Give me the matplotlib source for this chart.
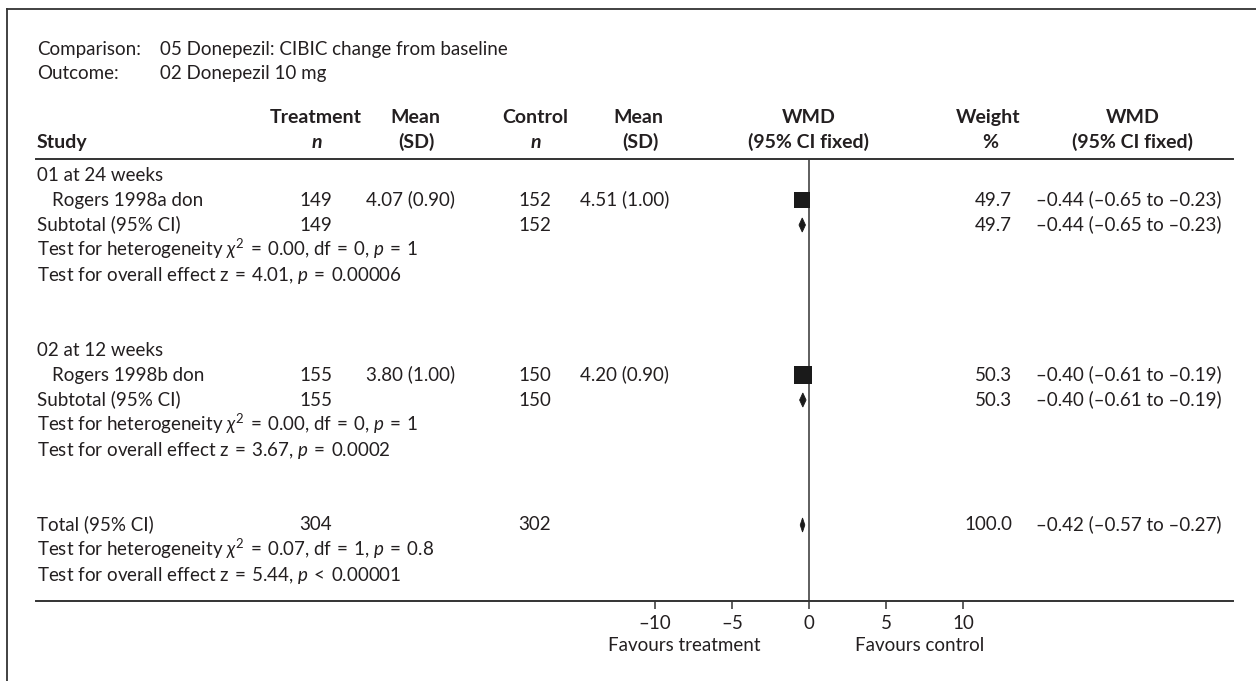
import matplotlib
matplotlib.use("Agg")
import matplotlib.pyplot as plt
import matplotlib.transforms as mtransforms
from matplotlib.lines import Line2D

plt.rcParams['font.family'] = ['Lato', 'DejaVu Sans']
plt.rcParams['mathtext.fontset'] = 'custom'
plt.rcParams['mathtext.rm'] = 'Lato'
plt.rcParams['mathtext.it'] = 'Lato:italic'
plt.rcParams['mathtext.bf'] = 'Lato:bold'
plt.rcParams['mathtext.fallback'] = 'stixsans'

# ---- data ----
comparison = "05 Donepezil: CIBIC change from baseline"
outcome = "02 Donepezil 10 mg"

groups = ["01 at 24 weeks", "02 at 12 weeks"]
studies = ["Rogers 1998a don", "Rogers 1998b don"]
trt_n = [149, 155]
trt_mean = [4.07, 3.80]
trt_sd = [0.90, 1.00]
ctl_n = [152, 150]
ctl_mean = [4.51, 4.20]
ctl_sd = [1.00, 0.90]
wmd = [-0.44, -0.40]
wmd_lo = [-0.65, -0.61]
wmd_hi = [-0.23, -0.19]
weight = [49.7, 50.3]
het_chi2 = [0.00, 0.00]
het_df = [0, 0]
het_p = ["= 1", "= 1"]
eff_z = [4.01, 3.67]
eff_p = ["= 0.00006", "= 0.0002"]

total_trt_n = 304
total_ctl_n = 302
total_wmd = -0.42
total_lo = -0.57
total_hi = -0.27
total_weight = 100.0
total_chi2 = 0.07
total_df = 1
total_p = "= 0.8"
total_z = 5.44
total_zp = "< 0.00001"

xticks = [-10, -5, 0, 5, 10]

# ---- layout (pixels) ----
W, H = 1256, 681
zero_px = 809
px_per_unit = 15.4
line_l, line_r = 36, 1233
top_line, bot_line = 159, 601
row0, row_step = 175, 25
base_off = 5.5    # px from row centre down to text baseline

TXT = '#231f20'
LINE = '#333333'
fs = 13.5
hfs = 14
SP = "\u2004"   # slightly wider space around = and <


def fx(px):
    return px / W


def fy(py):
    return 1 - py / H


def dash(v, fmt="{:.2f}"):
    return fmt.format(v).replace("-", "\u2013")


def eq(s):
    return s.replace(" = ", SP + "=" + SP).replace(" < ", SP + "<" + SP)


fig = plt.figure(figsize=(W / 100, H / 100), dpi=100)

# outer frame (open on right/bottom in the source)
fig.add_artist(Line2D([fx(7), fx(7)], [fy(9), 0], color=LINE, lw=1.3))
fig.add_artist(Line2D([fx(7), 1], [fy(9), fy(9)], color=LINE, lw=1.3))

ax = fig.add_axes([fx(line_l), fy(bot_line), fx(line_r - line_l),
                   (bot_line - top_line) / H])
ax.set_xlim((line_l - zero_px) / px_per_unit, (line_r - zero_px) / px_per_unit)
ax.set_ylim((bot_line - row0) / row_step, (top_line - row0) / row_step)
for s in ['left', 'right']:
    ax.spines[s].set_visible(False)
for s in ['top', 'bottom']:
    ax.spines[s].set_color(LINE)
    ax.spines[s].set_linewidth(1.4)
ax.set_yticks([])
ax.set_xticks(xticks)
ax.set_xticklabels([dash(t, "{:d}") for t in xticks], fontsize=fs, color=TXT)
ax.tick_params(axis='x', length=6, width=1.1, color=LINE, pad=4)
ax.axvline(0, color=LINE, lw=1.1)
ax.patch.set_alpha(0)

tr = mtransforms.blended_transform_factory(fig.transFigure, ax.transData)


def put(px, row, s, ha='left', **kw):
    ax.text(fx(px), row + base_off / row_step, eq(s), transform=tr, ha=ha,
            va='baseline', fontsize=fs, color=TXT, clip_on=False, **kw)


# columns
c_study, c_indent = 37, 52
c_tn, c_tm = 332, 366
c_cn, c_cm = 551, 580
c_w, c_ci = 1012, 1036


def diamond(row, lo, hi, mid):
    h = 7 / row_step
    ax.fill([lo, mid, hi, mid], [row, row - h, row, row + h],
            facecolor='#1a1a1a', edgecolor='#1a1a1a', lw=0.6, zorder=3)


for i in range(len(groups)):
    k = 7 * i
    put(c_study, k, groups[i])
    put(c_indent, k + 1, studies[i])
    put(c_tn, k + 1, str(trt_n[i]), ha='right')
    put(c_tm, k + 1, f"{trt_mean[i]:.2f} ({trt_sd[i]:.2f})")
    put(c_cn, k + 1, str(ctl_n[i]), ha='right')
    put(c_cm, k + 1, f"{ctl_mean[i]:.2f} ({ctl_sd[i]:.2f})")
    put(c_w, k + 1, f"{weight[i]:.1f}", ha='right')
    put(c_ci, k + 1, f"{dash(wmd[i])} ({dash(wmd_lo[i])} to {dash(wmd_hi[i])})")
    ax.plot([wmd_lo[i], wmd_hi[i]], [k + 1, k + 1], color='#1a1a1a', lw=1)
    ms = 17 * (weight[i] / 50) ** 0.5 * 0.72
    ax.plot(wmd[i], k + 1, 's', ms=ms, color='#1a1a1a', mew=0, zorder=3)

    put(c_study, k + 2, "Subtotal (95% CI)")
    put(c_tn, k + 2, str(trt_n[i]), ha='right')
    put(c_cn, k + 2, str(ctl_n[i]), ha='right')
    put(c_w, k + 2, f"{weight[i]:.1f}", ha='right')
    put(c_ci, k + 2, f"{dash(wmd[i])} ({dash(wmd_lo[i])} to {dash(wmd_hi[i])})")
    diamond(k + 2, wmd_lo[i], wmd_hi[i], wmd[i])

    put(c_study, k + 3, "Test for heterogeneity $\\chi^2$ = "
        f"{het_chi2[i]:.2f}, df = {het_df[i]}, $p$ {het_p[i]}")
    put(c_study, k + 4, f"Test for overall effect z = {eff_z[i]:.2f}, $p$ {eff_p[i]}")

k = 14
put(c_study, k, "Total (95% CI)")
put(c_tn, k, str(total_trt_n), ha='right')
put(c_cn, k, str(total_ctl_n), ha='right')
put(c_w, k, f"{total_weight:.1f}", ha='right')
put(c_ci, k, f"{dash(total_wmd)} ({dash(total_lo)} to {dash(total_hi)})")
diamond(k, total_lo, total_hi, total_wmd)
put(c_study, k + 1, "Test for heterogeneity $\\chi^2$ = "
    f"{total_chi2:.2f}, df = {total_df}, $p$ {total_p}")
put(c_study, k + 2, f"Test for overall effect z = {total_z:.2f}, $p$ {total_zp}")

# header block
plain = dict(fontsize=fs, color=TXT, va='baseline')
fig.text(fx(37), fy(55), "Comparison:", **plain)
fig.text(fx(160), fy(55), comparison, **plain)
fig.text(fx(37), fy(79), "Outcome:", **plain)
fig.text(fx(160), fy(79), outcome, **plain)

h1, h2 = 123, 148
hdr = dict(fontsize=hfs, color=TXT, va='baseline', ha='center', weight='bold')
fig.text(fx(37), fy(h2), "Study", **{**hdr, 'ha': 'left'})
fig.text(fx(316), fy(h1), "Treatment", **hdr)
fig.text(fx(317), fy(h2), "n", style='italic', **hdr)
fig.text(fx(415), fy(h1), "Mean", **hdr)
fig.text(fx(416), fy(h2), "(SD)", **hdr)
fig.text(fx(535), fy(h1), "Control", **hdr)
fig.text(fx(536), fy(h2), "n", style='italic', **hdr)
fig.text(fx(638), fy(h1), "Mean", **hdr)
fig.text(fx(640), fy(h2), "(SD)", **hdr)
fig.text(fx(809), fy(h1), "WMD", **hdr)
fig.text(fx(809), fy(h2), "(95% CI fixed)", **hdr)
fig.text(fx(988), fy(h1), "Weight", **hdr)
fig.text(fx(990), fy(h2), "%", **hdr)
fig.text(fx(1133), fy(h1), "WMD", **hdr)
fig.text(fx(1133), fy(h2), "(95% CI fixed)", **hdr)

# favours labels
fig.text(fx(760), fy(651), "Favours treatment", **{**plain, 'ha': 'right'})
fig.text(fx(855), fy(651), "Favours control", **{**plain, 'ha': 'left'})

fig.savefig("out.png", dpi=100)
